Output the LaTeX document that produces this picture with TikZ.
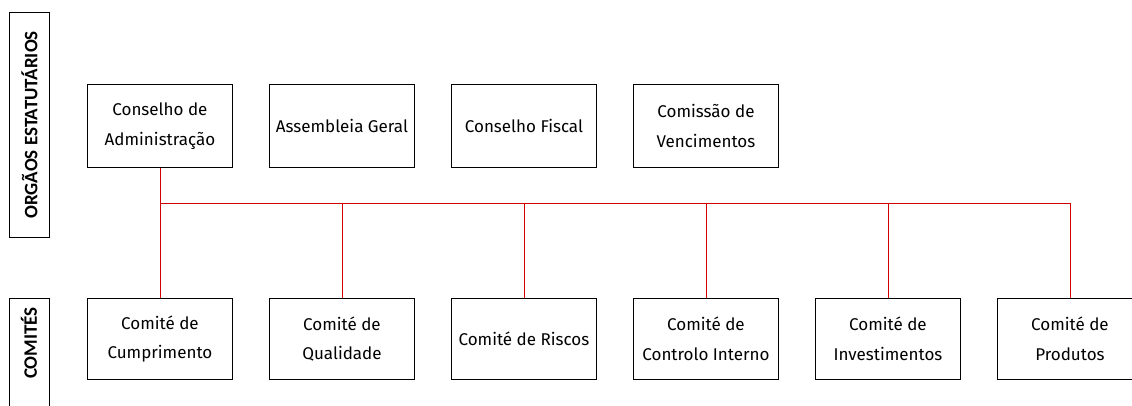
\documentclass[tikz,border=0pt]{standalone}
\usepackage{fontspec}
\setmainfont{Fira Sans}
\newfontfamily\sidefont{Carlito}
\definecolor{linkred}{RGB}{210,0,0}
\begin{document}
\begin{tikzpicture}[x=1pt,y=-1pt,
  orgbox/.style={draw=black,line width=0.9pt,minimum width=145pt,minimum height=83pt,inner sep=0pt,align=center,font=\fontsize{17}{29.5}\selectfont,anchor=north west},
  sidebox/.style={draw=black,line width=0.9pt,inner sep=0pt,anchor=north west},
  sidetext/.style={font=\sidefont\bfseries\fontsize{19}{21}\selectfont,rotate=90},
  link/.style={draw=linkred,line width=0.9pt}]
\useasboundingbox (0,0) rectangle (1132,406);
% side labels
\node[sidebox,minimum width=40pt,minimum height=225pt] (sa) at (9,12) {};
\node[sidetext] (sat) at (sa.center) {ORGÃOS ESTATUTÁRIOS};
\draw[line width=0.9pt] (9,410) -- (9,298) -- (49,298) -- (49,410);
\node[sidetext] (sbt) at (29,343) {COMITÉS};
% top boxes
\node[orgbox] (t1) at (87,84) {Conselho de\\Administração};
\node[orgbox] (t2) at (269,84) {Assembleia Geral};
\node[orgbox] (t3) at (451,84) {Conselho Fiscal};
\node[orgbox] (t4) at (633,84) {Comissão de\\Vencimentos};
% bottom boxes
\node[orgbox,minimum height=81pt] (b1) at (87,298) {Comité de\\Cumprimento};
\node[orgbox,minimum height=81pt] (b2) at (269,298) {Comité de\\Qualidade};
\node[orgbox,minimum height=81pt] (b3) at (451,298) {Comité de Riscos};
\node[orgbox,minimum height=81pt] (b4) at (633,298) {Comité de\\Controlo Interno};
\node[orgbox,minimum height=81pt] (b5) at (815,298) {Comité de\\Investimentos};
\node[orgbox,minimum height=81pt] (b6) at (997,298) {Comité de\\Produtos};
% connectors
\coordinate (bus) at (0,203);
\draw[link] (t1.south) -- (b1.north);
\draw[link] (t1.south |- bus) -- (b6.north |- bus) -- (b6.north);
\foreach \n in {b2,b3,b4,b5} \draw[link] (\n.north |- bus) -- (\n.north);
\end{tikzpicture}
\end{document}
